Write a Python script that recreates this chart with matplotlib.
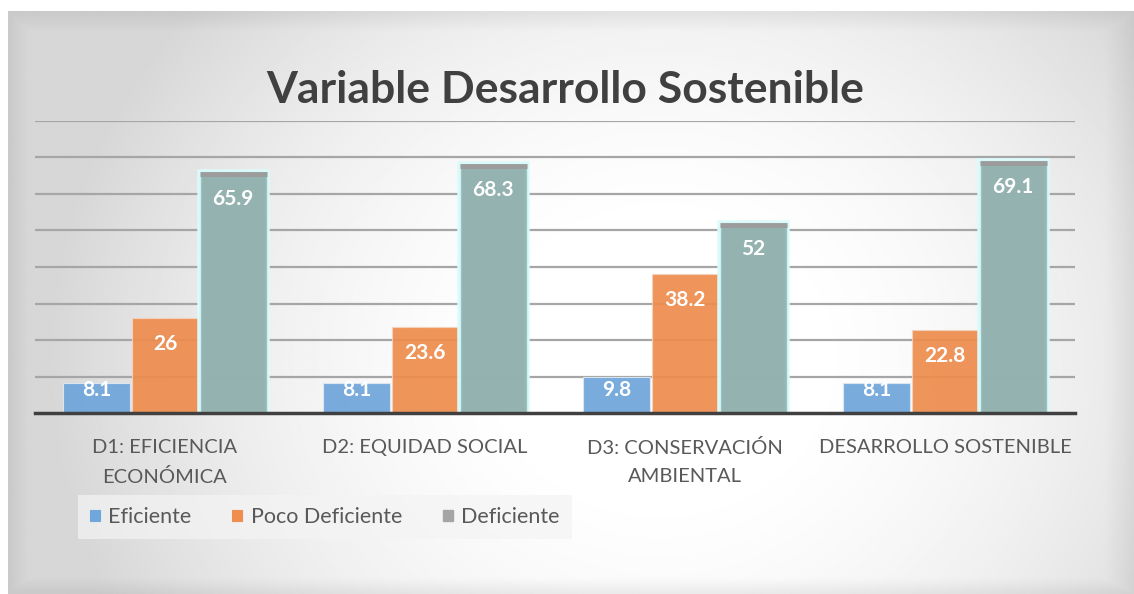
import numpy as np
import matplotlib.pyplot as plt
import matplotlib.patheffects as pe

categorias = ['D1: EFICIENCIA\nECONÓMICA', 'D2: EQUIDAD SOCIAL',
              'D3: CONSERVACIÓN\nAMBIENTAL', 'DESARROLLO SOSTENIBLE']
eficiente = [8.1, 8.1, 9.8, 8.1]
poco_deficiente = [26, 23.6, 38.2, 22.8]
deficiente = [65.9, 68.3, 52, 69.1]

plt.rcParams['font.family'] = ['Lato', 'DejaVu Sans']

W, H = 1134, 594
fig = plt.figure(figsize=(W / 100, H / 100), dpi=100)
fig.patch.set_facecolor('white')

# fondo con degradado y marco
bg = fig.add_axes([8 / W, 0, 1 - 8 / W, 1 - 11 / H])
bg.set_axis_off()
yy, xx = np.mgrid[0:1:300j, 0:1:600j]
g = 1 - ((xx - 0.58) ** 2 / 0.30 + (yy - 0.6) ** 2 / 0.9)
g = np.clip(g, 0, 1)
img = 0.84 + 0.17 * g
edge = np.minimum.reduce([xx * 60, (1 - xx) * 40, yy * 30, (1 - yy) * 40])
img = img * (0.94 + 0.06 * np.clip(edge, 0, 1))
img = np.clip(img, 0, 1)
bg.imshow(img, cmap='gray', vmin=0, vmax=1, aspect='auto', extent=[0, 1, 0, 1])
bg.set_xlim(0, 1)
bg.set_ylim(0, 1)

ax = fig.add_axes([35 / W, 1 - 413 / H, 1040 / W, 292 / H])
ax.set_facecolor('none')

x = np.arange(len(categorias))
w = 0.257
col_ef = '#6FA6DB'
col_pd = '#EE8D4E'
col_de = '#93B2B0'

b1 = ax.bar(x - w - 0.005, eficiente, w, color=col_ef, edgecolor='#dfe8f0', linewidth=0.8,
            alpha=0.93, zorder=3)
b2 = ax.bar(x, poco_deficiente, w, color=col_pd, edgecolor='#f3d2bd', linewidth=0.8,
            alpha=0.93, zorder=3)
b3 = ax.bar(x + w + 0.005, deficiente, w, color=col_de, edgecolor='#c8f4f4', linewidth=1.0,
            alpha=0.95, zorder=3,
            path_effects=[pe.withStroke(linewidth=4, foreground='#dcfbfb')])
for r in b3:
    ax.plot([r.get_x(), r.get_x() + r.get_width()], [r.get_height() - 0.5] * 2,
            color='#9c9c9c', lw=3.5, zorder=4, solid_capstyle='butt')

for bars, vals in [(b1, eficiente), (b2, poco_deficiente), (b3, deficiente)]:
    for r, v in zip(bars, vals):
        ax.text(r.get_x() + r.get_width() / 2, max(v - 7.2, 6.4), f'{v:g}',
                ha='center', va='center', color='white', fontsize=15,
                fontweight='bold', zorder=5)

ax.set_ylim(0, 80)
ax.set_xlim(-0.5, 3.5)
ax.set_yticks(np.arange(10, 81, 10))
ax.yaxis.grid(True, color='#a6a6a6', lw=1.6, zorder=0)
ax.tick_params(axis='y', left=False, labelleft=False)
ax.tick_params(axis='x', length=0, pad=19)
ax.set_xticks(x)
ax.set_xticklabels(categorias, fontsize=14.5, color='#595959', linespacing=1.75)
for s in ['top', 'right', 'left']:
    ax.spines[s].set_visible(False)
ax.spines['bottom'].set_color('#404040')
ax.spines['bottom'].set_linewidth(2.5)
ax.spines['bottom'].set_zorder(6)

fig.text(565 / W, 1 - 90 / H, 'Variable Desarrollo Sostenible', ha='center', va='center',
         fontsize=32, fontweight='bold', color='#404040')

leg = fig.legend([b1, b2, b3], ['Eficiente', 'Poco Deficiente', 'Deficiente'],
                 loc='center left', bbox_to_anchor=(78 / W, 1 - 517 / H), ncol=3,
                 fontsize=15.5, frameon=True, handlelength=0.45, handleheight=0.45,
                 handletextpad=0.4, columnspacing=1.9, borderpad=0.55,
                 labelcolor='#595959', borderaxespad=0)
leg.get_frame().set_facecolor('#f4f4f4')
leg.get_frame().set_edgecolor('none')
leg.get_frame().set_alpha(0.7)
leg.get_frame().set_boxstyle('square', pad=0)
for hnd, c in zip(leg.legend_handles, [col_ef, col_pd, '#a5a5a5']):
    hnd.set_facecolor(c)
    hnd.set_edgecolor(c)
    hnd.set_alpha(1)
    hnd.set_path_effects([])

fig.savefig('out.png', dpi=100)
